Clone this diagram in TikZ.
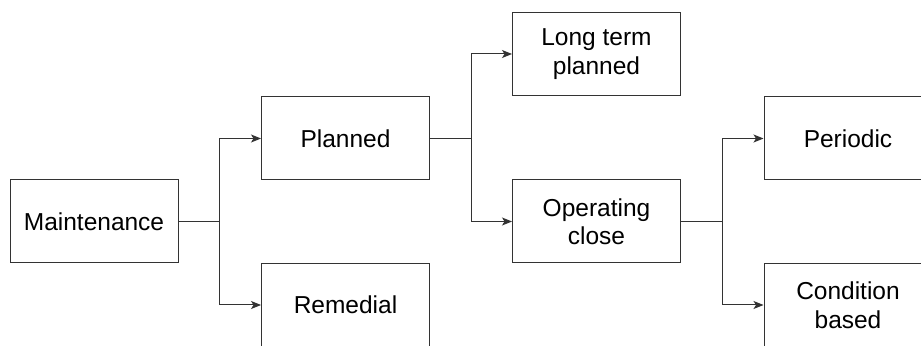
\documentclass[tikz,border=0pt]{standalone}
\usepackage{fontspec}
\setmainfont{Liberation Sans}
\usetikzlibrary{arrows.meta}
\definecolor{edge}{HTML}{333333}
\tikzset{
  box/.style={draw=edge, line width=1pt, minimum width=168pt, minimum height=83pt, inner sep=0pt, align=center, font=\fontsize{24.5}{28.5}\selectfont, text=black},
  conn/.style={draw=edge, line width=1pt},
  arr/.style={conn, -{Stealth[length=10pt,width=8pt,inset=2.5pt]}}
}
\begin{document}
\begin{tikzpicture}[x=1pt,y=-1pt]
\useasboundingbox (0,0) rectangle (921,347);
\fill[white] (0,0) rectangle (921,347);
\clip (0,0) rectangle (921,345.8);
\node[box] (m) at (94,221.5) {Maintenance};
\node[box] (p) at (345.5,138.5) {Planned};
\node[box] (r) at (345.5,305) {Remedial};
\node[box] (l) at (596.5,54) {Long term\\planned};
\node[box] (o) at (596.5,221.5) {Operating\\close};
\node[box] (pe) at (848,138.5) {Periodic};
\node[box] (c) at (848,305) {Condition\\based};
\coordinate (j1) at (219,221.5);
\coordinate (j2) at (471,138.5);
\coordinate (j3) at (722,221.5);
\draw[conn] (m.east) -- (j1);
\draw[arr] (j1) |- (p.west);
\draw[arr] (j1) |- (r.west);
\draw[conn] (p.east) -- (j2);
\draw[arr] (j2) |- (l.west);
\draw[arr] (j2) |- (o.west);
\draw[conn] (o.east) -- (j3);
\draw[arr] (j3) |- (pe.west);
\draw[arr] (j3) |- (c.west);
\end{tikzpicture}
\end{document}
